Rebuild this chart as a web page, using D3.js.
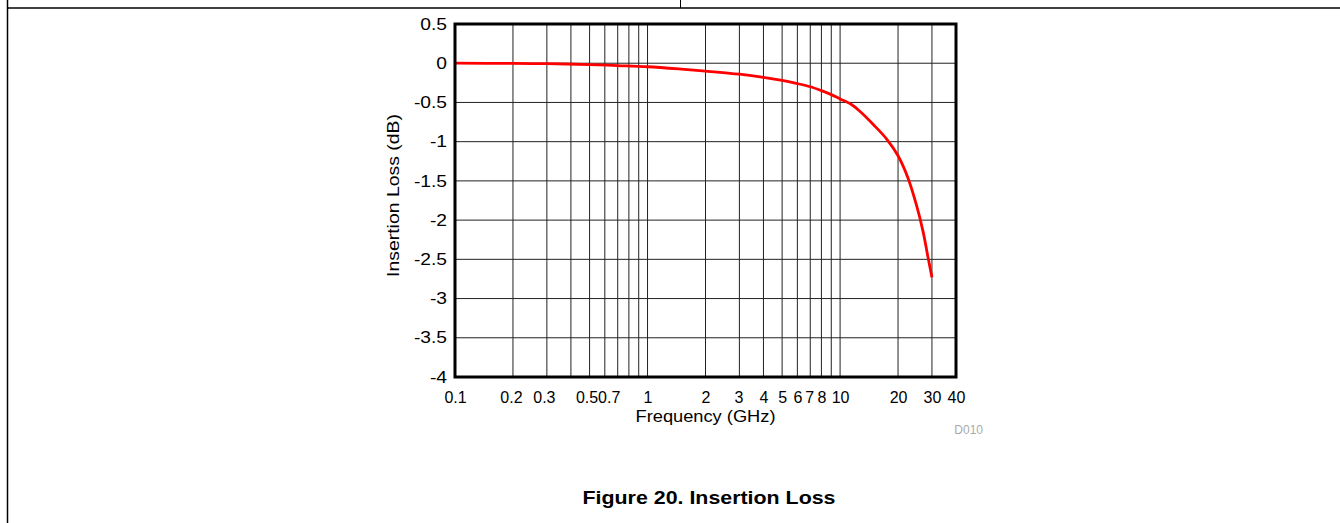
<!DOCTYPE html>
<html>
<head>
<meta charset="utf-8">
<script src="https://cdn.jsdelivr.net/npm/d3@7"></script>
<style>
  body { margin: 0; background: #fff; }
  svg text { font-family: "Liberation Sans", Arial, sans-serif; }
</style>
</head>
<body>
<svg id="chart" width="1340" height="523"></svg>
<script>
// Insertion loss curve (GHz, dB)
const freqs = [0.1, 0.2, 0.3, 0.5, 0.7, 1, 1.5, 2, 3, 4, 5, 6, 7, 8, 9, 10, 11.5, 12.5, 15, 17.5, 20, 22.5, 25, 27, 28.5, 30];
const loss  = [0, -0.003, -0.006, -0.017, -0.03, -0.045, -0.075, -0.1, -0.14, -0.18, -0.22, -0.26, -0.3, -0.35, -0.4, -0.455, -0.53, -0.6, -0.79, -0.97, -1.18, -1.46, -1.82, -2.15, -2.45, -2.73];

const xGrid = [0.2, 0.3, 0.4, 0.5, 0.6, 0.7, 0.8, 0.9, 1, 2, 3, 4, 5, 6, 7, 8, 9, 10, 20, 30];
const xTickLabels = [0.1, 0.2, 0.3, 0.5, 0.7, 1, 2, 3, 4, 5, 6, 7, 8, 10, 20, 30, 40];
const yTicks = [0.5, 0, -0.5, -1, -1.5, -2, -2.5, -3, -3.5, -4];

// labels 0.5 and 0.7 sit a little left of their grid lines in the original
const labelShift = { 0.2: -2, 0.3: -3, 0.5: -3, 0.7: -9, 3: -1, 7: -1 };

const svg = d3.select('#chart');

// page frame lines
svg.append('line').attr('x1', 7.5).attr('x2', 7.5).attr('y1', 0).attr('y2', 523)
  .attr('stroke', '#000').attr('stroke-width', 1.5);
svg.append('line').attr('x1', 7).attr('x2', 1340).attr('y1', 8).attr('y2', 8)
  .attr('stroke', '#000').attr('stroke-width', 1.5);
svg.append('line').attr('x1', 680.5).attr('x2', 680.5).attr('y1', 0).attr('y2', 8)
  .attr('stroke', '#000').attr('stroke-width', 1);

const plotL = 455, plotR = 956, plotT = 24, plotB = 377;

const x = d3.scaleLog().domain([0.1, 40]).range([plotL, plotR]);
const y = d3.scaleLinear().domain([-4, 0.5]).range([plotB, plotT]);

// grid
svg.append('g').selectAll('line').data(xGrid).enter().append('line')
  .attr('x1', d => x(d)).attr('x2', d => x(d))
  .attr('y1', plotT).attr('y2', plotB)
  .attr('stroke', '#222').attr('stroke-width', 1);
svg.append('g').selectAll('line').data(yTicks.slice(1, -1)).enter().append('line')
  .attr('x1', plotL).attr('x2', plotR)
  .attr('y1', d => y(d)).attr('y2', d => y(d))
  .attr('stroke', '#222').attr('stroke-width', 1);

// axes (labels only)
const xAxis = svg.append('g').attr('transform', `translate(0,${plotB})`)
  .call(d3.axisBottom(x).tickValues(xTickLabels).tickSize(0).tickPadding(15)
    .tickFormat(d => String(d)));
const yAxis = svg.append('g').attr('transform', `translate(${plotL},0)`)
  .call(d3.axisLeft(y).tickValues(yTicks).tickSize(0).tickPadding(8)
    .tickFormat(d => String(d)));
[xAxis, yAxis].forEach(a => {
  a.select('.domain').remove();
  a.selectAll('text').attr('font-size', 16).attr('fill', '#000')
    .style('font-family', '"Liberation Sans", Arial, sans-serif');
});
xAxis.selectAll('.tick text').attr('dx', d => labelShift[d] || 0);
// y labels are drawn a bit wider in the original
yAxis.selectAll('.tick text').each(function () {
  const w = this.getComputedTextLength();
  d3.select(this).attr('textLength', w * 1.2).attr('lengthAdjust', 'spacingAndGlyphs');
});

// curve
const line = d3.line()
  .x((d, i) => x(freqs[i]))
  .y(d => y(d))
  .curve(d3.curveCatmullRom.alpha(0.5));
svg.append('path').datum(loss)
  .attr('d', line)
  .attr('fill', 'none')
  .attr('stroke', '#ff0000')
  .attr('stroke-width', 2.8);

// plot frame
svg.append('rect')
  .attr('x', plotL).attr('y', plotT)
  .attr('width', plotR - plotL).attr('height', plotB - plotT)
  .attr('fill', 'none').attr('stroke', '#000').attr('stroke-width', 3);

// titles
svg.append('text')
  .attr('x', (plotL + plotR) / 2).attr('y', 422)
  .attr('text-anchor', 'middle').attr('font-size', 16)
  .attr('textLength', 140).attr('lengthAdjust', 'spacingAndGlyphs')
  .text('Frequency (GHz)');
svg.append('text')
  .attr('transform', `translate(399,${(plotT + plotB) / 2 - 5}) rotate(-90)`)
  .attr('text-anchor', 'middle').attr('font-size', 16)
  .attr('textLength', 163).attr('lengthAdjust', 'spacingAndGlyphs')
  .text('Insertion Loss (dB)');
svg.append('text')
  .attr('x', 983).attr('y', 434)
  .attr('text-anchor', 'end').attr('font-size', 12).attr('fill', '#aaa')
  .text('D010');
svg.append('text')
  .attr('x', 709).attr('y', 504)
  .attr('text-anchor', 'middle').attr('font-size', 18).attr('font-weight', 'bold')
  .attr('textLength', 253).attr('lengthAdjust', 'spacingAndGlyphs')
  .text('Figure 20. Insertion Loss');
</script>
</body>
</html>
